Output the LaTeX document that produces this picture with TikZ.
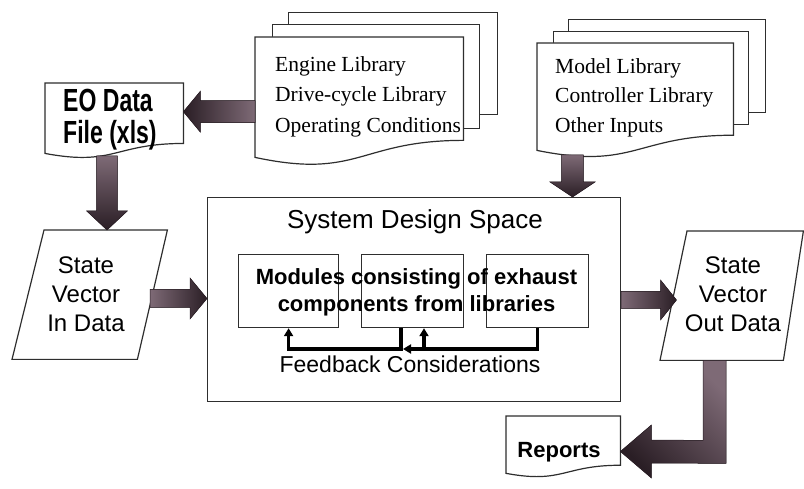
\documentclass[tikz,border=0pt]{standalone}
\usepackage{fontspec}
\setmainfont{Liberation Serif}
\setsansfont{Liberation Sans}
\newfontfamily\condsans[FakeStretch=0.72]{Liberation Sans}
\usetikzlibrary{calc,arrows.meta}

\definecolor{inkline}{HTML}{2E2E2E}
\definecolor{arrowlight}{HTML}{7E6A76}
\definecolor{arrowdark}{HTML}{2A1E25}

\tikzset{
  sheet/.style={draw=inkline, line width=1.2pt, fill=white},
  frame/.style={rectangle, draw=none, inner sep=0pt, anchor=north west},
  plainbox/.style={rectangle, draw=inkline, line width=1.2pt, inner sep=0pt, anchor=north west},
  blockarrow/.style={draw=arrowdark, line width=0.5pt, line join=miter},
  feedback/.style={line width=3.1pt, black, line join=miter},
  fbtip/.style={-{Triangle[length=8pt,width=9pt]}},
  libtext/.style={font=\fontsize{21.5}{30.5}\selectfont, align=left, inner sep=0pt, anchor=north west},
  statetext/.style={font=\sffamily\fontsize{24}{28.8}\selectfont, align=center, inner sep=0pt, anchor=north},
}

% document sheet with a wavy lower edge, drawn over a frame node
\newcommand\docoutline[1]{%
  \draw[sheet] (#1.north west) -- (#1.north east)
    -- ($(#1.north east)!0.802!(#1.south east)$)
    .. controls ($(#1.north)!0.802!(#1.south)$) and ($(#1.north)!1.107!(#1.south)$)
    .. ($(#1.north west)!0.934!(#1.south west)$) -- cycle;}

% straight block arrow: style, tail, tip, dx, dy, shaft half width, head half width, head length
\newcommand\blockarrow[8]{%
  \filldraw[blockarrow,#1]
    ($(#2)+({-(#5)*(#6)},{(#4)*(#6)})$)
    -- ($(#3)+({-(#4)*(#8)-(#5)*(#6)},{-(#5)*(#8)+(#4)*(#6)})$)
    -- ($(#3)+({-(#4)*(#8)-(#5)*(#7)},{-(#5)*(#8)+(#4)*(#7)})$)
    -- (#3)
    -- ($(#3)+({-(#4)*(#8)+(#5)*(#7)},{-(#5)*(#8)-(#4)*(#7)})$)
    -- ($(#3)+({-(#4)*(#8)+(#5)*(#6)},{-(#5)*(#8)-(#4)*(#6)})$)
    -- ($(#2)+({(#5)*(#6)},{-(#4)*(#6)})$) -- cycle;}

\begin{document}
\begin{tikzpicture}[x=1pt,y=-1pt]
\useasboundingbox (0,0) rectangle (804,489);

% ---------- left library stack ----------
\node[plainbox, fill=white, minimum width=209pt, minimum height=102pt] (engback2) at (288,12) {};
\node[plainbox, fill=white, minimum width=207pt, minimum height=104pt] (engback1) at (272,24) {};
\node[frame, minimum width=208pt, minimum height=128.5pt] (eng) at (255,37) {};
\docoutline{eng}
\node[libtext] (englib) at (275,56) {Engine Library\\Drive-cycle Library\\Operating Conditions};

% ---------- right library stack ----------
\node[plainbox, fill=white, minimum width=197pt, minimum height=93pt] (mdlback2) at (568,19) {};
\node[plainbox, fill=white, minimum width=195pt, minimum height=93pt] (mdlback1) at (553,31) {};
\node[frame, minimum width=196pt, minimum height=114.6pt] (mdl) at (537,43) {};
\docoutline{mdl}
\node[libtext, font=\fontsize{21.5}{29.5}\selectfont] (mdllib) at (555,58.3) {Model Library\\Controller Library\\Other Inputs};

% ---------- EO data file ----------
\node[frame, minimum width=138pt, minimum height=75pt] (eo) at (45,83) {};
\docoutline{eo}
\node[inner sep=0pt, anchor=north west, align=left, font=\condsans\bfseries\fontsize{32}{32}\selectfont] (eotext) at (63,89.3) {EO Data\\File (xls)};

% ---------- state vector in ----------
\node[frame, minimum width=155pt, minimum height=129pt] (svin) at (12,230) {};
\draw[sheet] ($(svin.north west)+(32,0)$) -- (svin.north east) -- ($(svin.south east)+(-30,0)$) -- (svin.south west) -- cycle;
\node[statetext] (svintext) at (86,256.7) {State\\Vector\\In Data};

% ---------- state vector out ----------
\node[frame, minimum width=143pt, minimum height=129pt] (svout) at (660,231) {};
\draw[sheet] ($(svout.north west)+(27,0)$) -- (svout.north east) -- ($(svout.south east)+(-20,0)$) -- (svout.south west) -- cycle;
\node[statetext] (svouttext) at (733,256.7) {State\\Vector\\Out Data};

% ---------- reports ----------
\node[frame, minimum width=114pt, minimum height=61pt] (rep) at (506,416) {};
\docoutline{rep}
\node[inner sep=0pt, anchor=base, font=\sffamily\bfseries\fontsize{22}{26}\selectfont] (reptext) at (559,457) {Reports};

% ---------- system design space ----------
\node[plainbox, minimum width=413pt, minimum height=204pt] (sys) at (207,197) {};
\node[inner sep=0pt, anchor=base, font=\sffamily\fontsize{26}{30}\selectfont] (systitle) at (415,229) {System Design Space};
\node[plainbox, minimum width=100pt, minimum height=73pt] (b1) at (238,254) {};
\node[plainbox, minimum width=102pt, minimum height=73pt] (b2) at (361,254) {};
\node[plainbox, minimum width=102pt, minimum height=73pt] (b3) at (486,254) {};
\node[inner sep=0pt, anchor=north, align=center, font=\sffamily\bfseries\fontsize{22}{27.5}\selectfont] (modtext) at (416.5,268) {Modules consisting of exhaust\\components from libraries};

% feedback loop between the modules
\coordinate (fbjoin) at (403,349);
\coordinate (fbdrop) at (401,349);
\coordinate (fbrise) at (424,349);
\draw[feedback, fbtip] (b3.south) |- (fbjoin);
\draw[feedback, fbtip] (b2.south -| fbdrop) -- (fbdrop) -| (b1.south);
\draw[feedback, fbtip] (fbrise) -- (b2.south -| fbrise);
\node[inner sep=0pt, anchor=base, font=\sffamily\fontsize{23}{27}\selectfont] (fbtext) at (410,373) {Feedback Considerations};

% ---------- block arrows ----------
\coordinate (a1t) at (eng.west |- 0,111.7);
\coordinate (a1p) at (eo.east |- 0,111.7);
\blockarrow{left color=arrowdark, right color=arrowlight}{a1t}{a1p}{-1}{0}{11}{20.5}{17}

\coordinate (a2t) at (107,156);
\coordinate (a2p) at (svin.north -| a2t);
\blockarrow{top color=arrowlight, bottom color=arrowdark}{a2t}{a2p}{0}{1}{10.3}{20.3}{19}

\coordinate (a3t) at (150,298.5);
\coordinate (a3p) at (sys.west |- a3t);
\blockarrow{left color=arrowlight, right color=arrowdark}{a3t}{a3p}{1}{0}{9}{20.5}{17}

\coordinate (a4t) at (572.5,155);
\coordinate (a4p) at (sys.north -| a4t);
\blockarrow{top color=arrowlight, bottom color=arrowdark}{a4t}{a4p}{0}{1}{10.8}{22.5}{15}

\coordinate (a5t) at (sys.east |- 0,300);
\coordinate (a5p) at (676.5,300);
\blockarrow{left color=arrowlight, right color=arrowdark}{a5t}{a5p}{1}{0}{8.5}{20}{16}

% elbow arrow from the output vector down to the reports
\coordinate (a6t) at (svout.south -| 703,0);
\coordinate (a6p) at (rep.east |- 0,451.5);
\filldraw[blockarrow, top color=arrowlight, bottom color=arrowdark, shading angle=-45]
  (a6t) -- ($(a6t)+(23,0)$) -- ($(a6t)+(23,103)$) -- ($(a6p)+(31,11.5)$) -- ($(a6p)+(31,26.5)$)
  -- (a6p) -- ($(a6p)+(31,-26.5)$) -- ($(a6p)+(31,-11.5)$) -- ($(a6t)+(0,80)$) -- cycle;

\end{tikzpicture}
\end{document}
